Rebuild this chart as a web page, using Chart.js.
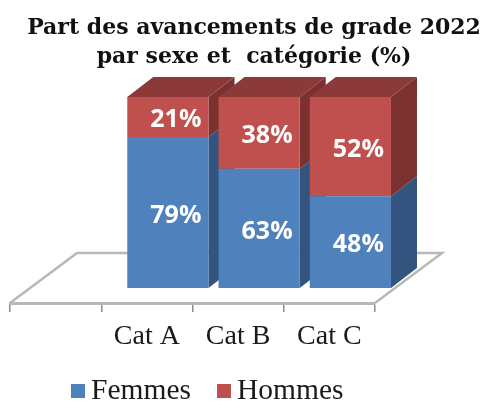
<!DOCTYPE html>
<html lang="fr">
<head>
    <meta charset="UTF-8">
    <title>Part des avancements de grade 2022</title>
    <script src="https://cdn.jsdelivr.net/npm/chart.js"></script>
    <style>
        html, body { margin: 0; padding: 0; background: #fff; }
        canvas { display: block; }
    </style>
</head>
<body>
    <canvas id="chart" width="484" height="401"></canvas>

    <script>
        // Donnees (la premiere categorie est vide dans l'original)
        const categories = ['', 'Cat A', 'Cat B', 'Cat C'];
        const femmes = [null, 79, 63, 48];
        const hommes = [null, 21, 38, 52];
        const titleLines = ['Part des avancements de grade 2022', 'par sexe et  catégorie (%)'];

        // Empilement a 100% : Cat B fait 101 a cause des arrondis
        const share = (values, other) => values.map((v, i) => v == null ? null : v / (v + other[i]) * 100);

        // Effet 3D: les barres sont decalees sur le plancher
        const barShift = { x: 21, y: -15 };
        const barDepth = { x: 26, y: -20 };
        const floorDepth = { x: 67, y: -50 };
        const floorColor = '#b8b8b8';
        const sideColors = ['#33547f', '#7b3130'];
        const topColor = '#8b3a39';

        function face(ctx, pts, color) {
            ctx.fillStyle = color;
            ctx.beginPath();
            pts.forEach((p, i) => i ? ctx.lineTo(p[0], p[1]) : ctx.moveTo(p[0], p[1]));
            ctx.closePath();
            ctx.fill();
        }

        const fake3d = {
            id: 'fake3d',
            beforeDatasetsDraw(chart) {
                const { ctx, chartArea: a } = chart;

                // plancher
                ctx.save();
                ctx.strokeStyle = floorColor;
                ctx.lineWidth = 2.5;
                ctx.beginPath();
                ctx.moveTo(a.left, a.bottom);
                ctx.lineTo(a.left + floorDepth.x, a.bottom + floorDepth.y);
                ctx.lineTo(a.right + floorDepth.x, a.bottom + floorDepth.y);
                ctx.lineTo(a.right, a.bottom);
                ctx.stroke();
                ctx.restore();

                ctx.save();
                ctx.translate(barShift.x, barShift.y);

                // faces laterales et dessus, de gauche a droite
                categories.forEach((_, i) => {
                    chart.data.datasets.forEach((ds, d) => {
                        if (ds.data[i] == null) return;
                        const bar = chart.getDatasetMeta(d).data[i];
                        const r = bar.x + bar.width / 2;
                        const l = bar.x - bar.width / 2;
                        face(ctx, [[r, bar.base], [r + barDepth.x, bar.base + barDepth.y],
                            [r + barDepth.x, bar.y + barDepth.y], [r, bar.y]], sideColors[d]);
                        if (d === chart.data.datasets.length - 1) {
                            face(ctx, [[l, bar.y], [l + barDepth.x, bar.y + barDepth.y],
                                [r + barDepth.x, bar.y + barDepth.y], [r, bar.y]], topColor);
                        }
                    });
                });
            },
            afterDatasetsDraw(chart) {
                const { ctx } = chart;
                ctx.restore();

                // pourcentages
                ctx.save();
                ctx.font = 'bold 25px "Open Sans"';
                ctx.fillStyle = '#fff';
                ctx.textAlign = 'center';
                ctx.textBaseline = 'middle';
                [femmes, hommes].forEach((values, d) => {
                    chart.getDatasetMeta(d).data.forEach((bar, i) => {
                        if (values[i] == null) return;
                        ctx.fillText(values[i] + '%', bar.x + barShift.x + 8, (bar.y + bar.base) / 2 + barShift.y + 3);
                    });
                });
                ctx.restore();

                // titre (centre sur 254, pas sur le canvas)
                ctx.save();
                ctx.font = 'bold 22px "DejaVu Serif"';
                ctx.fillStyle = '#111';
                ctx.textAlign = 'center';
                ctx.textBaseline = 'middle';
                titleLines.forEach((line, i) => ctx.fillText(line, 254, 28 + i * 29));
                ctx.restore();

                // legende
                ctx.save();
                ctx.font = '29.5px "Liberation Serif"';
                ctx.textBaseline = 'middle';
                [71, 217].forEach((x, d) => {
                    const ds = chart.data.datasets[d];
                    ctx.fillStyle = ds.backgroundColor;
                    ctx.fillRect(x, 384, 14, 14);
                    ctx.fillStyle = '#1a1a1a';
                    ctx.fillText(ds.label, x + 20, 391);
                });
                ctx.restore();
            }
        };

        new Chart(document.getElementById('chart'), {
            type: 'bar',
            data: {
                labels: categories,
                datasets: [
                    { label: 'Femmes', data: share(femmes, hommes), backgroundColor: '#4f81bd' },
                    { label: 'Hommes', data: share(hommes, femmes), backgroundColor: '#c0504d' }
                ]
            },
            plugins: [fake3d],
            options: {
                responsive: false,
                animation: false,
                events: [],
                datasets: { bar: { categoryPercentage: 1, barPercentage: 0.89, clip: false } },
                layout: { padding: { left: 0, right: 4, top: 112, bottom: 0 } },
                plugins: {
                    legend: { display: false },
                    tooltip: { enabled: false }
                },
                scales: {
                    x: {
                        stacked: true,
                        grid: { drawOnChartArea: false, drawTicks: true, tickLength: 9, color: '#8c8c8c', lineWidth: 1.5 },
                        border: { color: floorColor, width: 3 },
                        ticks: { color: '#1a1a1a', padding: 8, maxRotation: 0, font: { family: '"Liberation Serif"', size: 28 } },
                        afterFit(scale) { scale.height = 98; }
                    },
                    y: {
                        stacked: true,
                        min: 0,
                        max: 100,
                        grid: { display: false },
                        border: { display: false },
                        ticks: { display: false },
                        afterFit(scale) { scale.width = 10; }
                    },
                    spacer: {
                        position: 'right',
                        grid: { display: false },
                        border: { display: false },
                        ticks: { display: false },
                        afterFit(scale) { scale.width = 105; }
                    }
                }
            }
        });
    </script>
</body>
</html>
